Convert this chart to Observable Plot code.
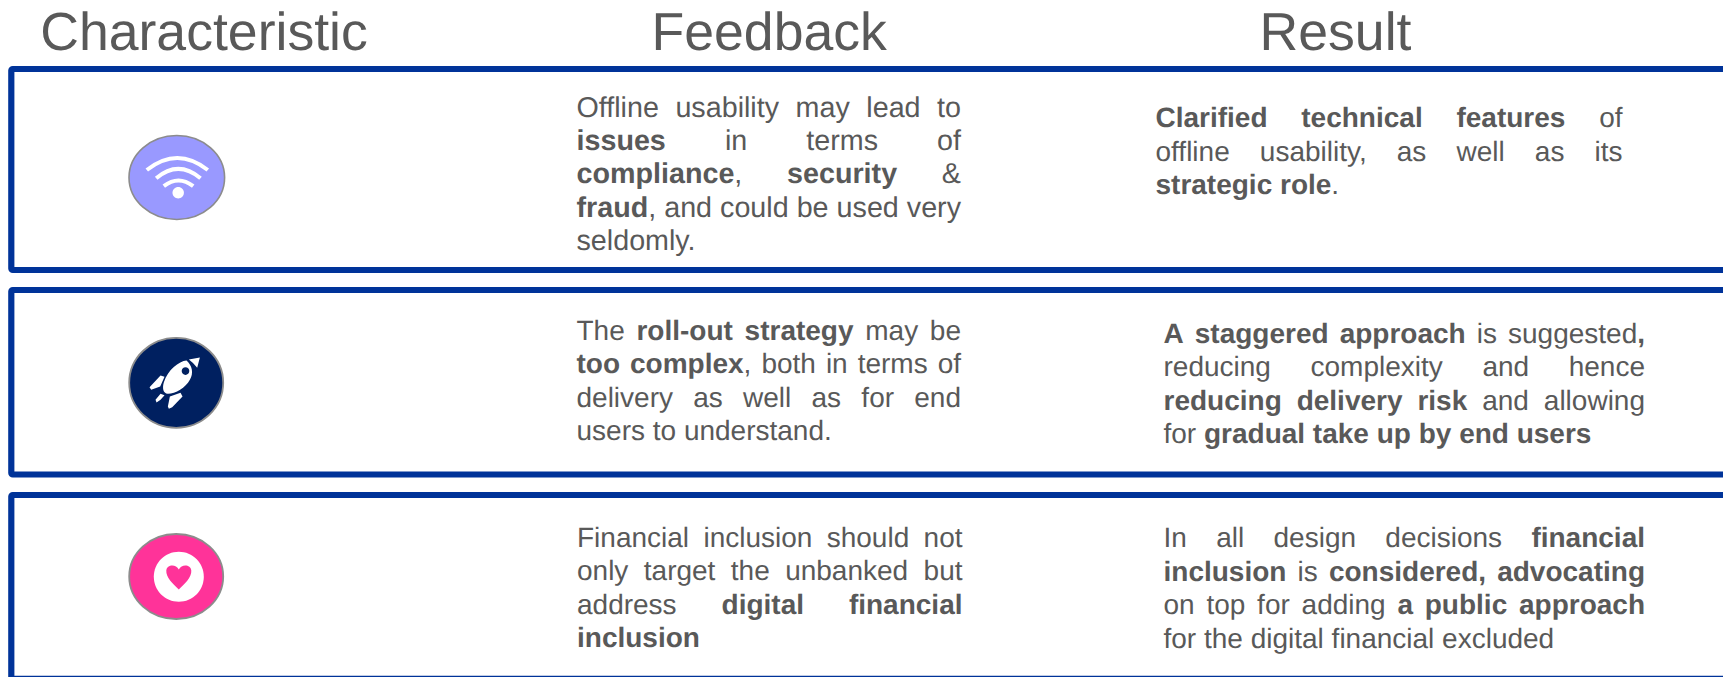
<!DOCTYPE html>
<html><head><meta charset="utf-8">
<style>html,body{margin:0;padding:0;background:#fff}svg{display:block;text-rendering:geometricPrecision}</style>
<script src="https://cdn.jsdelivr.net/npm/d3@7"></script>
<script src="https://cdn.jsdelivr.net/npm/@observablehq/plot@0.6"></script>
</head><body><div id="chart"></div>
<script>
// ---- content ----
const headers = ["Characteristic", "Feedback", "Result"];
const iconNames = ["wifi", "rocket", "heart"];
const feedbackRow1 = ["Offline usability may lead to", "**issues** in terms of", "**compliance**, **security** &", "**fraud**, and could be used very", "seldomly."];
const feedbackRow2 = ["The **roll-out strategy** may be", "**too complex**, both in terms of", "delivery as well as for end", "users to understand."];
const feedbackRow3 = ["Financial inclusion should not", "only target the unbanked but", "address **digital financial**", "**inclusion**"];
const resultRow1 = ["**Clarified technical features** of", "offline usability, as well as its", "**strategic role**."];
const resultRow2 = ["**A staggered approach** is suggested**,**", "reducing complexity and hence", "**reducing delivery risk** and allowing", "for **gradual take up by end users**"];
const resultRow3 = ["In all design decisions **financial**", "**inclusion** is **considered, advocating**", "on top for adding **a public approach**", "for the digital financial excluded"];

// ---- layout ----
const W = 1723, H = 677, LH = 33.4, INK = "#595959", BLUE = "#003399", FONT = "Liberation Sans, Arial, sans-serif";
const blocks = [
  {lines: feedbackRow1, fs: 28.7, x0: 576, x1: 960.5, y: 116},
  {lines: feedbackRow2, fs: 28, x0: 576, x1: 960.5, y: 339.2},
  {lines: feedbackRow3, fs: 28, x0: 576.5, x1: 962, y: 546.2},
  {lines: resultRow1, fs: 28, x0: 1155, x1: 1622, y: 126.7},
  {lines: resultRow2, fs: 28, x0: 1163, x1: 1644.5, y: 342.4},
  {lines: resultRow3, fs: 28, x0: 1163, x1: 1644.5, y: 546.8}
];
const headerPos = [{x: 203.5, y: 49.5}, {x: 768.7, y: 49.5}, {x: 1335, y: 49.5}];
const boxes = [{y1: 69, y2: 270}, {y1: 290, y2: 474.5}, {y1: 495, y2: 678.8}];
const iconPos = [{x: 176.3, y: 177}, {x: 175.7, y: 382.3}, {x: 175.7, y: 576}];

// ---- justified text: every word becomes one or more text runs ----
const ctx = document.createElement("canvas").getContext("2d");
ctx.textRendering = "geometricPrecision";
const widthOf = (t, bold, fs) => { ctx.font = `${bold ? "bold " : ""}${fs}px "Liberation Sans"`; return ctx.measureText(t).width; };
function tokenize(line) {
  const words = []; let cur = [], bold = false;
  line.split("**").forEach((seg, i) => {
    bold = i % 2 === 1;
    seg.split(/( )/).forEach(p => {
      if (p === " ") { if (cur.length) words.push(cur); cur = []; }
      else if (p) cur.push({t: p, bold});
    });
  });
  if (cur.length) words.push(cur);
  return words;
}
const runs = [];
for (const b of blocks) {
  b.lines.forEach((line, i) => {
    const words = tokenize(line);
    const ww = words.map(w => d3.sum(w, r => widthOf(r.t, r.bold, b.fs)));
    const last = i === b.lines.length - 1;
    const gap = last || words.length < 2 ? widthOf(" ", false, b.fs) : (b.x1 - b.x0 - d3.sum(ww)) / (words.length - 1);
    let x = b.x0;
    words.forEach((w, k) => {
      let rx = x;
      for (const r of w) { runs.push({text: r.t, bold: r.bold, fs: b.fs, x: rx, y: b.y + i * LH}); rx += widthOf(r.t, r.bold, b.fs); }
      x += ww[k] + gap;
    });
  });
}

// ---- icon shapes as Plot symbols (pixel units around the dot's centre) ----
const ellipse = (rx, ry) => ({draw(c) {
  const k = 0.5523;
  c.moveTo(rx, 0);
  c.bezierCurveTo(rx, k * ry, k * rx, ry, 0, ry);
  c.bezierCurveTo(-k * rx, ry, -rx, k * ry, -rx, 0);
  c.bezierCurveTo(-rx, -k * ry, -k * rx, -ry, 0, -ry);
  c.bezierCurveTo(k * rx, -ry, rx, -k * ry, rx, 0);
  c.closePath();
}});
const poly = (c, pts) => { c.moveTo(...pts[0]); pts.slice(1).forEach(p => c.lineTo(...p)); c.closePath(); };
const wifiArcs = {draw(c) {
  c.moveTo(-30, -7.5); c.quadraticCurveTo(0.5, -31.5, 31, -7.5);
  c.moveTo(-20.6, 0.7); c.quadraticCurveTo(1.5, -18, 23.7, 0.7);
  c.moveTo(-13, 8.7); c.quadraticCurveTo(1.7, -2.7, 16.4, 8.7);
}};
const z = (x, y) => [(x - 287) / 3, (y - 217) / 3];
const rocketShape = {draw(c) {
  c.moveTo(...z(318, 150));
  c.bezierCurveTo(...z(295, 152), ...z(262, 178), ...z(250, 215));
  c.bezierCurveTo(...z(245, 232), ...z(247, 248), ...z(262, 250));
  c.bezierCurveTo(...z(285, 250), ...z(315, 232), ...z(328, 208));
  c.bezierCurveTo(...z(340, 188), ...z(335, 165), ...z(318, 150));
  c.closePath();
  c.moveTo(...z(325, 147)); c.lineTo(...z(358, 141)); c.lineTo(...z(350, 172));
  c.quadraticCurveTo(...z(340, 158), ...z(325, 147)); c.closePath();
  poly(c, [z(207, 230), z(240, 195), z(252, 199), z(239, 228), z(212, 238)]);
  poly(c, [z(225, 268), z(240, 250), z(252, 254), z(240, 268), z(228, 276)]);
  poly(c, [z(262, 288), z(268, 258), z(300, 247), z(306, 258), z(275, 290), z(265, 295)]);
}};
const heartShape = {draw(c) {
  c.moveTo(0, 13);
  c.bezierCurveTo(-6, 7, -13, 1, -12.5, -6);
  c.bezierCurveTo(-12, -12, -3, -13, 0, -7);
  c.bezierCurveTo(3, -13, 12, -12, 12.5, -6);
  c.bezierCurveTo(13, 1, 6, 7, 0, 13);
  c.closePath();
}};
const at = (i, dx = 0, dy = 0) => [{x: iconPos[i].x + dx, y: iconPos[i].y + dy}];
const dot = (data, symbol, o) => Plot.dot(data, {x: "x", y: "y", r: 10, symbol, ...o});

const chart = Plot.plot({
  width: W, height: H, margin: 0,
  style: {background: "#fff", overflow: "hidden"},
  x: {type: "identity", axis: null},
  y: {type: "identity", axis: null},
  marks: [
    Plot.rect(boxes, {x1: () => 11.3, x2: () => 1760, y1: "y1", y2: "y2", fill: "none", stroke: BLUE, strokeWidth: 6.2, rx: 1.5}),
    Plot.text(headers, {x: (d, i) => headerPos[i].x, y: (d, i) => headerPos[i].y, text: d => d, fontSize: 53.6, fill: INK, fontFamily: FONT, lineAnchor: "bottom", textAnchor: "middle"}),
    Plot.text(runs.filter(r => !r.bold), {x: "x", y: "y", text: "text", fontSize: "fs", fill: INK, fontFamily: FONT, lineAnchor: "bottom", textAnchor: "start"}),
    Plot.text(runs.filter(r => r.bold), {x: "x", y: "y", text: "text", fontSize: "fs", fontWeight: "bold", fill: INK, fontFamily: FONT, lineAnchor: "bottom", textAnchor: "start"}),
    // wifi
    dot(at(0), ellipse(47.8, 42), {fill: "#9999ff", stroke: "#8c8c8c", strokeWidth: 1.6}),
    dot(at(0), wifiArcs, {fill: "none", stroke: "#fff", strokeWidth: 4}),
    dot(at(0, 1.4, 15.3), ellipse(5.7, 5.7), {fill: "#fff", stroke: "none"}),
    // rocket
    dot(at(1), ellipse(47, 45), {fill: "#002060", stroke: "#8c8c8c", strokeWidth: 1.8}),
    dot(at(1), rocketShape, {fill: "#fff", stroke: "none"}),
    dot(at(1, 9.3, -11.7), ellipse(3.8, 3.8), {fill: "#002060", stroke: "none"}),
    // heart
    dot(at(2), ellipse(47, 42.5), {fill: "#ff3399", stroke: "#8c8c8c", strokeWidth: 1.8}),
    dot(at(2, 2.6, 0.3), ellipse(25, 25), {fill: "#fff", stroke: "none"}),
    dot(at(2, 2.6, 0), heartShape, {fill: "#ff3399", stroke: "none"})
  ]
});
document.getElementById("chart").append(chart);
</script></body></html>
